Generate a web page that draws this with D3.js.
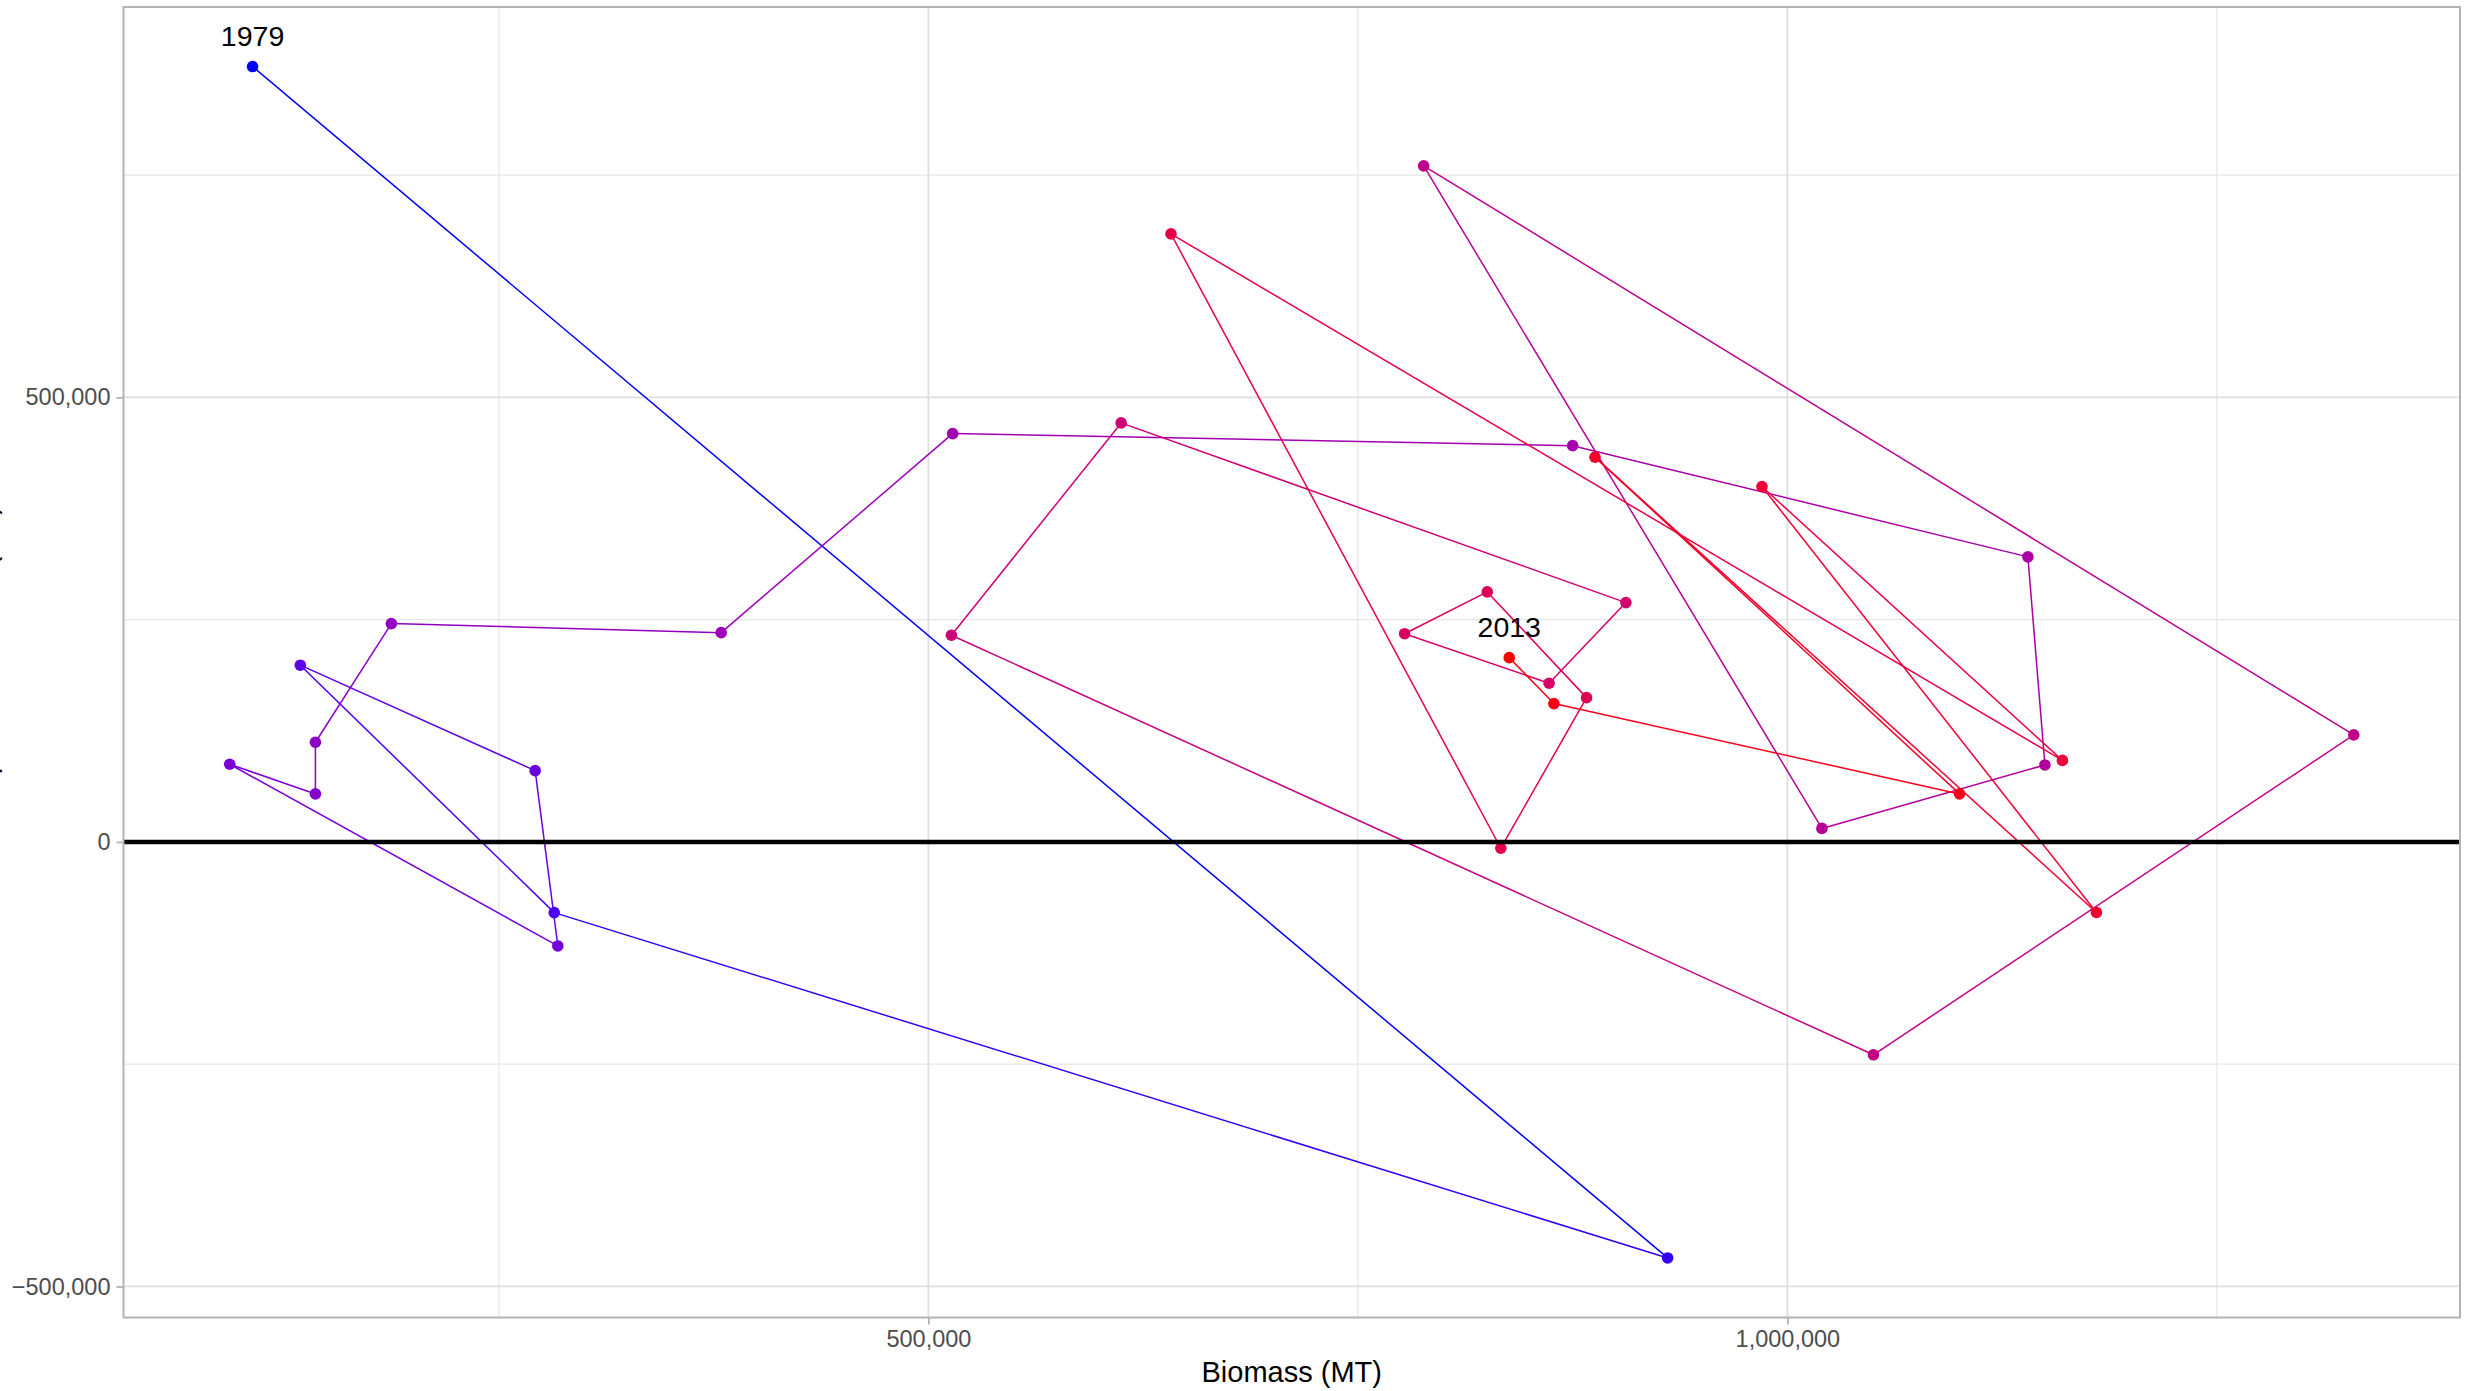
<!DOCTYPE html>
<html>
<head>
<meta charset="utf-8">
<script src="https://cdn.jsdelivr.net/npm/d3@7"></script>
<style>
  html, body { margin: 0; padding: 0; background: #ffffff; }
  svg { display: block; }
  text { font-family: "Liberation Sans", Arial, Helvetica, sans-serif; }
</style>
</head>
<body>
<svg id="chart" width="2478" height="1391"></svg>
<script>
// ---- data ----
const years = [1979,1980,1981,1982,1983,1984,1985,1986,1987,1988,1989,1990,1991,1992,1993,1994,1995,1996,1997,1998,1999,2000,2001,2002,2003,2004,2005,2006,2007,2008,2009,2010,2011,2012,2013];
const biomass = [106600,930300,282200,134400,271100,284300,93300,143200,143200,187400,379400,514100,875000,1140000,1149900,1020100,788300,1329700,1050100,513400,612200,906000,861300,777200,825300,883100,833200,641200,1160100,985200,1179900,888000,1100200,864100,838100];
const surplus = [872100,-467900,-79500,198800,80200,-117000,87400,54000,112100,245600,235400,459300,445700,320600,86600,15200,760400,120400,-239400,232500,471300,269200,178500,234200,281200,162300,-7100,683900,91700,399700,-79300,432800,54000,155600,207300];
const labelledYears = [1979, 2013];
const xTickValues = [500000, 1000000];
const xTickLabels = ["500,000", "1,000,000"];
const xMinorValues = [250000, 750000, 1250000];
const yTickValues = [-500000, 0, 500000];
const yTickLabels = ["\u2212500,000", "0", "500,000"];
const yMinorValues = [-250000, 250000, 750000];
const xTitle = "Biomass (MT)";
const yTitle = "Surplus Production (MT)";

// ---- layout ----
const panel = { left: 123.5, right: 2460, top: 7, bottom: 1317.5 };
const svg = d3.select("#chart");

function expand(ext) { const d = ext[1] - ext[0]; return [ext[0] - 0.05 * d, ext[1] + 0.05 * d]; }
const x = d3.scaleLinear().domain(expand(d3.extent(biomass))).range([panel.left, panel.right]);
const y = d3.scaleLinear().domain(expand(d3.extent(surplus))).range([panel.bottom, panel.top]);
const color = d3.scaleLinear().domain([d3.min(years), d3.max(years)])
  .range(["#0000ff", "#ff0000"]).interpolate(d3.interpolateLab);

const data = years.map((yr, i) => ({ year: yr, b: biomass[i], s: surplus[i] }));

// ---- grid ----
const grid = svg.append("g");
grid.selectAll("line.xminor").data(xMinorValues).enter().append("line")
  .attr("x1", d => x(d)).attr("x2", d => x(d)).attr("y1", panel.top).attr("y2", panel.bottom)
  .attr("stroke", "#e6e6e6").attr("stroke-width", 1.2);
grid.selectAll("line.yminor").data(yMinorValues).enter().append("line")
  .attr("y1", d => y(d)).attr("y2", d => y(d)).attr("x1", panel.left).attr("x2", panel.right)
  .attr("stroke", "#e6e6e6").attr("stroke-width", 1.2);
grid.selectAll("line.xmajor").data(xTickValues).enter().append("line")
  .attr("x1", d => x(d)).attr("x2", d => x(d)).attr("y1", panel.top).attr("y2", panel.bottom)
  .attr("stroke", "#dedede").attr("stroke-width", 1.8);
grid.selectAll("line.ymajor").data(yTickValues).enter().append("line")
  .attr("y1", d => y(d)).attr("y2", d => y(d)).attr("x1", panel.left).attr("x2", panel.right)
  .attr("stroke", "#dedede").attr("stroke-width", 1.8);

// ---- path segments ----
const segs = d3.pairs(data);
svg.append("g").selectAll("line").data(segs).enter().append("line")
  .attr("x1", d => x(d[0].b)).attr("y1", d => y(d[0].s))
  .attr("x2", d => x(d[1].b)).attr("y2", d => y(d[1].s))
  .attr("stroke", d => color(d[0].year)).attr("stroke-width", 1.5)
  .attr("stroke-linecap", "butt");

// ---- points ----
svg.append("g").selectAll("circle").data(data).enter().append("circle")
  .attr("cx", d => x(d.b)).attr("cy", d => y(d.s)).attr("r", 5.8)
  .attr("fill", d => color(d.year));

// ---- zero line ----
svg.append("line")
  .attr("x1", panel.left).attr("x2", panel.right)
  .attr("y1", y(0)).attr("y2", y(0))
  .attr("stroke", "#000").attr("stroke-width", 4.5);

// ---- year labels ----
svg.append("g").selectAll("text").data(data.filter(d => labelledYears.includes(d.year))).enter().append("text")
  .attr("x", d => x(d.b)).attr("y", d => y(d.s) - 20.5)
  .attr("text-anchor", "middle").attr("font-size", 28.5).attr("fill", "#000")
  .text(d => d.year);

// ---- panel border ----
svg.append("rect")
  .attr("x", panel.left).attr("y", panel.top)
  .attr("width", panel.right - panel.left).attr("height", panel.bottom - panel.top)
  .attr("fill", "none").attr("stroke", "#b3b3b3").attr("stroke-width", 2);

// ---- axes ----
const xAxis = d3.axisBottom(x).tickValues(xTickValues)
  .tickFormat((d, i) => xTickLabels[i]).tickSize(7).tickPadding(6);
const gx = svg.append("g").attr("transform", `translate(0,${panel.bottom})`).call(xAxis);
gx.select(".domain").remove();
gx.selectAll(".tick line").attr("stroke", "#b3b3b3").attr("stroke-width", 1.8);
gx.selectAll(".tick text").attr("fill", "#4d4d4d").attr("font-size", 23.5)
  .attr("font-family", '"Liberation Sans", Arial, sans-serif');

const yAxis = d3.axisLeft(y).tickValues(yTickValues)
  .tickFormat((d, i) => yTickLabels[i]).tickSize(7).tickPadding(6);
const gy = svg.append("g").attr("transform", `translate(${panel.left},0)`).call(yAxis);
gy.select(".domain").remove();
gy.selectAll(".tick line").attr("stroke", "#b3b3b3").attr("stroke-width", 1.8);
gy.selectAll(".tick text").attr("fill", "#4d4d4d").attr("font-size", 23.5)
  .attr("font-family", '"Liberation Sans", Arial, sans-serif');

// ---- titles ----
svg.append("text")
  .attr("x", (panel.left + panel.right) / 2).attr("y", 1382)
  .attr("text-anchor", "middle").attr("font-size", 29).attr("fill", "#000")
  .text(xTitle);
svg.append("text")
  .attr("transform", `translate(-4,${(panel.top + panel.bottom) / 2}) rotate(-90)`)
  .attr("text-anchor", "middle").attr("font-size", 29).attr("fill", "#000")
  .text(yTitle);
</script>
</body>
</html>
